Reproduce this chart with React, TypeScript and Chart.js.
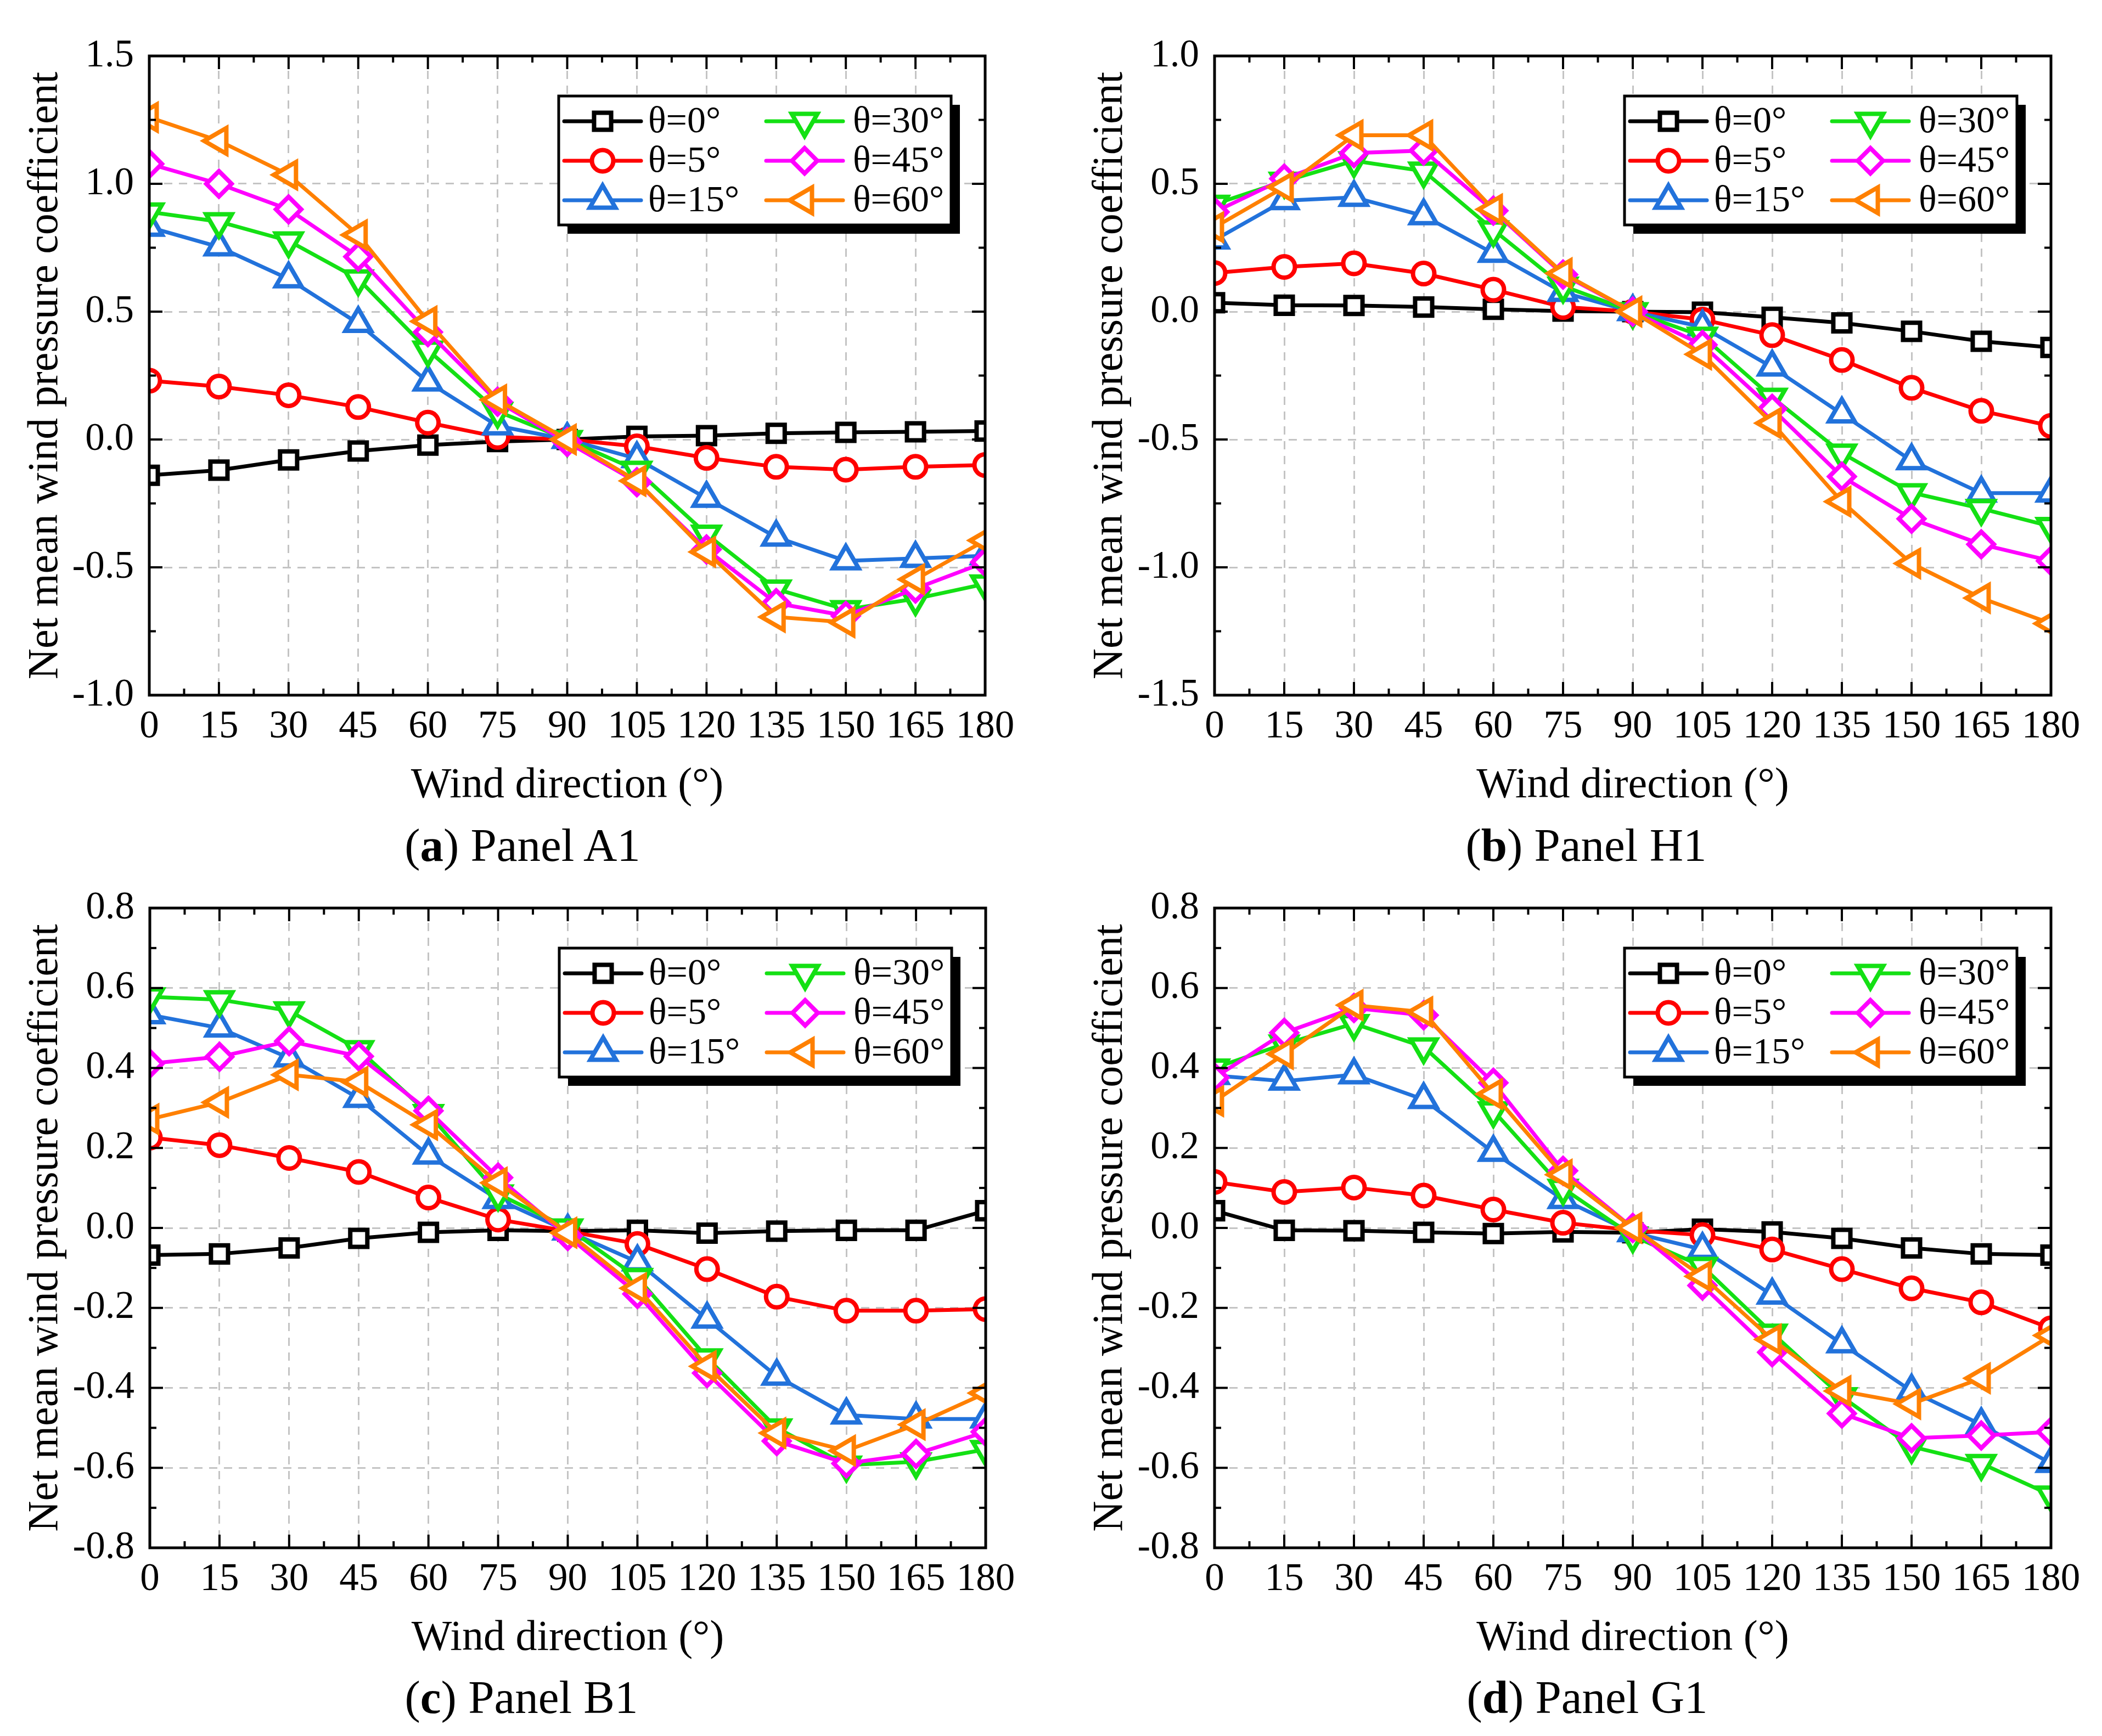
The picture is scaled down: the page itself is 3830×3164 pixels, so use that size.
import React, { useEffect, useRef } from "react";
import { Chart, registerables } from "chart.js";
import { drawPoint } from "chart.js/helpers";

Chart.register(...registerables);

const FONT = "'Liberation Serif', 'Times New Roman', Times, serif";

// ---------- categories / labels ----------
const WIND_DIRECTION = [0, 15, 30, 45, 60, 75, 90, 105, 120, 135, 150, 165, 180];
const THETA_LABELS = ["θ=0°", "θ=5°", "θ=15°", "θ=30°", "θ=45°", "θ=60°"];
const X_TITLE = "Wind direction (°)";
const Y_TITLE = "Net mean wind pressure coefficient";

// ---------- Panel A1 ----------
const A1_THETA_0 = [-0.14, -0.12, -0.08, -0.045, -0.022, -0.008, 0.0, 0.012, 0.015, 0.024, 0.028, 0.03, 0.033];
const A1_THETA_5 = [0.23, 0.207, 0.173, 0.127, 0.066, 0.01, 0.0, -0.027, -0.072, -0.107, -0.118, -0.107, -0.1];
const A1_THETA_15 = [0.83, 0.753, 0.628, 0.454, 0.225, 0.053, 0.0, -0.075, -0.23, -0.382, -0.475, -0.465, -0.455];
const A1_THETA_30 = [0.89, 0.852, 0.777, 0.628, 0.35, 0.11, 0.0, -0.12, -0.37, -0.585, -0.665, -0.623, -0.565];
const A1_THETA_45 = [1.078, 1.0, 0.9, 0.715, 0.42, 0.148, -0.01, -0.167, -0.43, -0.64, -0.69, -0.583, -0.48];
const A1_THETA_60 = [1.26, 1.168, 1.035, 0.8, 0.462, 0.155, 0.0, -0.162, -0.44, -0.694, -0.715, -0.547, -0.395];

// ---------- Panel H1 ----------
const H1_THETA_0 = [0.035, 0.025, 0.024, 0.018, 0.009, 0.002, 0.0, -0.002, -0.022, -0.044, -0.077, -0.116, -0.14];
const H1_THETA_5 = [0.151, 0.175, 0.189, 0.149, 0.086, 0.018, 0.0, -0.031, -0.092, -0.189, -0.298, -0.388, -0.447];
const H1_THETA_15 = [0.28, 0.434, 0.447, 0.375, 0.228, 0.075, 0.0, -0.06, -0.217, -0.4, -0.583, -0.71, -0.71];
const H1_THETA_30 = [0.42, 0.51, 0.59, 0.55, 0.32, 0.1, 0.0, -0.096, -0.335, -0.553, -0.708, -0.77, -0.84];
const H1_THETA_45 = [0.39, 0.52, 0.62, 0.63, 0.395, 0.145, 0.0, -0.13, -0.38, -0.645, -0.81, -0.91, -0.975];
const H1_THETA_60 = [0.33, 0.487, 0.69, 0.69, 0.4, 0.15, 0.0, -0.167, -0.436, -0.743, -0.985, -1.12, -1.22];

// ---------- Panel B1 ----------
const B1_THETA_0 = [-0.068, -0.065, -0.05, -0.026, -0.011, -0.006, -0.008, -0.006, -0.013, -0.008, -0.006, -0.006, 0.043];
const B1_THETA_5 = [0.226, 0.207, 0.175, 0.14, 0.076, 0.021, -0.008, -0.04, -0.103, -0.172, -0.207, -0.207, -0.203];
const B1_THETA_15 = [0.533, 0.5, 0.425, 0.324, 0.182, 0.071, -0.008, -0.085, -0.228, -0.371, -0.468, -0.478, -0.478];
const B1_THETA_30 = [0.578, 0.571, 0.543, 0.446, 0.286, 0.085, 0.0, -0.124, -0.325, -0.5, -0.593, -0.585, -0.554];
const B1_THETA_45 = [0.411, 0.428, 0.467, 0.429, 0.293, 0.126, -0.02, -0.165, -0.363, -0.533, -0.589, -0.565, -0.51];
const B1_THETA_60 = [0.272, 0.314, 0.383, 0.365, 0.258, 0.113, -0.012, -0.151, -0.346, -0.513, -0.557, -0.492, -0.413];

// ---------- Panel G1 ----------
const G1_THETA_0 = [0.043, -0.006, -0.007, -0.011, -0.014, -0.01, -0.012, -0.003, -0.01, -0.026, -0.05, -0.065, -0.068];
const G1_THETA_5 = [0.115, 0.09, 0.101, 0.081, 0.046, 0.013, -0.006, -0.018, -0.054, -0.103, -0.151, -0.186, -0.251];
const G1_THETA_15 = [0.381, 0.367, 0.383, 0.321, 0.189, 0.071, -0.012, -0.054, -0.168, -0.29, -0.408, -0.492, -0.589];
const G1_THETA_30 = [0.4, 0.46, 0.511, 0.453, 0.293, 0.099, -0.02, -0.096, -0.263, -0.422, -0.547, -0.589, -0.668];
const G1_THETA_45 = [0.376, 0.488, 0.55, 0.532, 0.363, 0.143, 0.0, -0.144, -0.311, -0.464, -0.526, -0.519, -0.51];
const G1_THETA_60 = [0.317, 0.435, 0.557, 0.54, 0.335, 0.133, 0.0, -0.121, -0.279, -0.408, -0.44, -0.376, -0.269];

// ---------- styles ----------
const SERIES_COLORS = ["#000000", "#FF0000", "#2272DB", "#14E014", "#FF00FF", "#FF8000"];
const SERIES_POINT_STYLES = ["rect", "circle", "triangle", "triangle", "rectRot", "triangle"];
const SERIES_ROTATIONS = [0, 0, 0, 180, 0, -90];
const SERIES_RADII = [22, 19.5, 27, 27, 23, 27];
const LINE_W = 7;
const MARKER_W = 8;
const X_AXIS_H = 233;
const GRID_COLOR = "#c4c4c4";

type Panel = {
  letter: string;
  name: string;
  series: number[][];
  yMin: number;
  yMax: number;
  yStep: number;
  left: number;
  top: number;
  width: number;
  height: number;
  yAxisW: number;
  plotRight: number;
  plotTop: number;
  plotBottom: number;
  yTitleX: number;
  capX: number;
  capY: number;
};

const PANELS: Panel[] = [
  {
    letter: "a", name: "Panel A1",
    series: [A1_THETA_0, A1_THETA_5, A1_THETA_15, A1_THETA_30, A1_THETA_45, A1_THETA_60],
    yMin: -1.0, yMax: 1.5, yStep: 0.5,
    left: 0, top: 0, width: 1915, height: 1553,
    yAxisW: 272, plotRight: 1795, plotTop: 102, plotBottom: 1267, yTitleX: 84,
    capX: 952, capY: 1549,
  },
  {
    letter: "b", name: "Panel H1",
    series: [H1_THETA_0, H1_THETA_5, H1_THETA_15, H1_THETA_30, H1_THETA_45, H1_THETA_60],
    yMin: -1.5, yMax: 1.0, yStep: 0.5,
    left: 1915, top: 0, width: 1915, height: 1553,
    yAxisW: 298, plotRight: 1822, plotTop: 102, plotBottom: 1267, yTitleX: 109,
    capX: 2890, capY: 1549,
  },
  {
    letter: "c", name: "Panel B1",
    series: [B1_THETA_0, B1_THETA_5, B1_THETA_15, B1_THETA_30, B1_THETA_45, B1_THETA_60],
    yMin: -0.8, yMax: 0.8, yStep: 0.2,
    left: 0, top: 1553, width: 1915, height: 1611,
    yAxisW: 273, plotRight: 1796, plotTop: 102, plotBottom: 1268, yTitleX: 84,
    capX: 950, capY: 3102,
  },
  {
    letter: "d", name: "Panel G1",
    series: [G1_THETA_0, G1_THETA_5, G1_THETA_15, G1_THETA_30, G1_THETA_45, G1_THETA_60],
    yMin: -0.8, yMax: 0.8, yStep: 0.2,
    left: 1915, top: 1553, width: 1915, height: 1611,
    yAxisW: 298, plotRight: 1822, plotTop: 102, plotBottom: 1268, yTitleX: 109,
    capX: 2892, capY: 3102,
  },
];

// frame + inward ticks on all four sides (Origin style)
const framePlugin = {
  id: "originFrame",
  afterDatasetsDraw(chart: any) {
    const { ctx, chartArea: a, scales } = chart;
    const xs = scales.x;
    const ys = scales.y;
    const MAJOR = 24;
    const MINOR = 12;
    ctx.save();
    ctx.setLineDash([]);
    ctx.strokeStyle = "#000";
    ctx.lineCap = "butt";
    ctx.lineWidth = 4;
    const seg = (x0: number, y0: number, x1: number, y1: number) => {
      ctx.beginPath();
      ctx.moveTo(x0, y0);
      ctx.lineTo(x1, y1);
      ctx.stroke();
    };
    const xv: number[] = xs.ticks.map((t: any) => t.value);
    const yv: number[] = ys.ticks.map((t: any) => t.value);
    const xTick = (v: number, len: number) => {
      const px = xs.getPixelForValue(v);
      seg(px, a.bottom, px, a.bottom - len);
      seg(px, a.top, px, a.top + len);
    };
    const yTick = (v: number, len: number) => {
      const py = ys.getPixelForValue(v);
      seg(a.left, py, a.left + len, py);
      seg(a.right, py, a.right - len, py);
    };
    xv.forEach((v) => xTick(v, MAJOR));
    for (let i = 0; i < xv.length - 1; i++) xTick((xv[i] + xv[i + 1]) / 2, MINOR);
    yv.forEach((v) => yTick(v, MAJOR));
    for (let i = 0; i < yv.length - 1; i++) yTick((yv[i] + yv[i + 1]) / 2, MINOR);
    ctx.lineWidth = 5;
    ctx.lineJoin = "miter";
    ctx.strokeRect(a.left, a.top, a.right - a.left, a.bottom - a.top);
    ctx.restore();
  },
};

// two-column legend with drop shadow
const legendPlugin = {
  id: "thetaLegend",
  afterDraw(chart: any) {
    const { ctx, chartArea: a } = chart;
    const w = 715;
    const h = 235;
    const left = a.right - 62 - w;
    const top = a.top + 73;
    ctx.save();
    ctx.setLineDash([]);
    ctx.fillStyle = "#000";
    ctx.fillRect(left + 16, top + 16, w, h);
    ctx.fillStyle = "#fff";
    ctx.fillRect(left, top, w, h);
    ctx.lineWidth = 5;
    ctx.strokeStyle = "#000";
    ctx.strokeRect(left, top, w, h);
    chart.data.datasets.forEach((ds: any, i: number) => {
      const col = i < 3 ? 0 : 1;
      const row = i % 3;
      const y = top + 46 + row * 72;
      const x0 = left + (col ? 378 : 10);
      const x1 = x0 + 140;
      const mx = (x0 + x1) / 2;
      ctx.strokeStyle = ds.borderColor;
      ctx.lineWidth = LINE_W;
      ctx.lineCap = "round";
      ctx.beginPath();
      ctx.moveTo(x0, y);
      ctx.lineTo(x1, y);
      ctx.stroke();
      ctx.lineCap = "butt";
      ctx.lineJoin = "miter";
      ctx.fillStyle = "#fff";
      ctx.lineWidth = MARKER_W;
      drawPoint(
        ctx,
        { pointStyle: ds.pointStyle, rotation: ds.pointRotation, radius: ds.pointRadius, borderWidth: MARKER_W } as any,
        mx,
        y
      );
      ctx.fillStyle = "#000";
      ctx.font = `68px ${FONT}`;
      ctx.textAlign = "left";
      ctx.textBaseline = "middle";
      ctx.fillText(ds.label, x1 + (col ? 18 : 13), y + 2);
    });
    ctx.restore();
  },
};

function PanelChart({ panel }: { panel: Panel }) {
  const ref = useRef<HTMLCanvasElement | null>(null);
  useEffect(() => {
    if (!ref.current) return;
    const p = panel;
    const titleLH = 78 * 1.2;
    const chart = new Chart(ref.current, {
      type: "line",
      data: {
        datasets: p.series.map((vals, i) => ({
          label: THETA_LABELS[i],
          data: WIND_DIRECTION.map((x, j) => ({ x, y: vals[j] })),
          borderColor: SERIES_COLORS[i],
          backgroundColor: SERIES_COLORS[i],
          borderWidth: LINE_W,
          pointStyle: SERIES_POINT_STYLES[i] as any,
          pointRotation: SERIES_ROTATIONS[i],
          pointRadius: SERIES_RADII[i],
          pointHoverRadius: SERIES_RADII[i],
          pointBorderWidth: MARKER_W,
          pointHoverBorderWidth: MARKER_W,
          pointBackgroundColor: "#ffffff",
          pointBorderColor: SERIES_COLORS[i],
          tension: 0,
          fill: false,
          clip: 0,
          order: 5 - i,
        })),
      },
      options: {
        animation: false,
        responsive: false,
        devicePixelRatio: 1,
        events: [],
        layout: {
          padding: {
            left: 0,
            top: p.plotTop,
            right: p.width - p.plotRight,
            bottom: p.height - p.plotBottom - X_AXIS_H,
          },
        },
        plugins: {
          legend: { display: false },
          tooltip: { enabled: false },
          title: { display: false },
        },
        scales: {
          x: {
            type: "linear",
            min: 0,
            max: 180,
            afterFit: (s: any) => {
              s.height = X_AXIS_H;
            },
            ticks: {
              stepSize: 15,
              autoSkip: false,
              maxRotation: 0,
              minRotation: 0,
              padding: 16,
              color: "#000",
              font: { family: FONT, size: 71 },
              callback: (v: any) => String(v),
            },
            grid: { color: GRID_COLOR, lineWidth: 3, drawTicks: false },
            border: { display: false, dash: [15, 12] },
            title: {
              display: true,
              text: X_TITLE,
              color: "#000",
              font: { family: FONT, size: 78 },
              padding: { top: 0, bottom: 21 },
            },
          },
          y: {
            type: "linear",
            min: p.yMin,
            max: p.yMax,
            afterFit: (s: any) => {
              s.width = p.yAxisW;
            },
            ticks: {
              stepSize: p.yStep,
              autoSkip: false,
              padding: 28,
              color: "#000",
              font: { family: FONT, size: 71 },
              callback: (v: any) => Number(v).toFixed(1),
            },
            grid: { color: GRID_COLOR, lineWidth: 3, drawTicks: false },
            border: { display: false, dash: [15, 12] },
            title: {
              display: true,
              text: Y_TITLE,
              color: "#000",
              font: { family: FONT, size: 78 },
              padding: { top: p.yTitleX - titleLH / 2, bottom: 0 },
            },
          },
        },
      } as any,
      plugins: [framePlugin, legendPlugin],
    });
    return () => chart.destroy();
  }, [panel]);

  return (
    <>
      <canvas
        ref={ref}
        width={panel.width}
        height={panel.height}
        style={{
          position: "absolute",
          left: panel.left,
          top: panel.top,
          width: panel.width,
          height: panel.height,
        }}
      />
      <div
        style={{
          position: "absolute",
          left: panel.capX,
          top: panel.capY - 0.6 * 85,
          transform: "translateX(-50%)",
          fontFamily: FONT,
          fontSize: 85,
          lineHeight: 1,
          whiteSpace: "nowrap",
          color: "#000",
        }}
      >
        (<b>{panel.letter}</b>) {panel.name}
      </div>
    </>
  );
}

export default function App() {
  return (
    <div
      style={{
        position: "absolute",
        left: 0,
        top: 0,
        width: 3830,
        height: 3164,
        background: "#ffffff",
        overflow: "hidden",
      }}
    >
      {PANELS.map((p) => (
        <PanelChart key={p.letter} panel={p} />
      ))}
    </div>
  );
}
